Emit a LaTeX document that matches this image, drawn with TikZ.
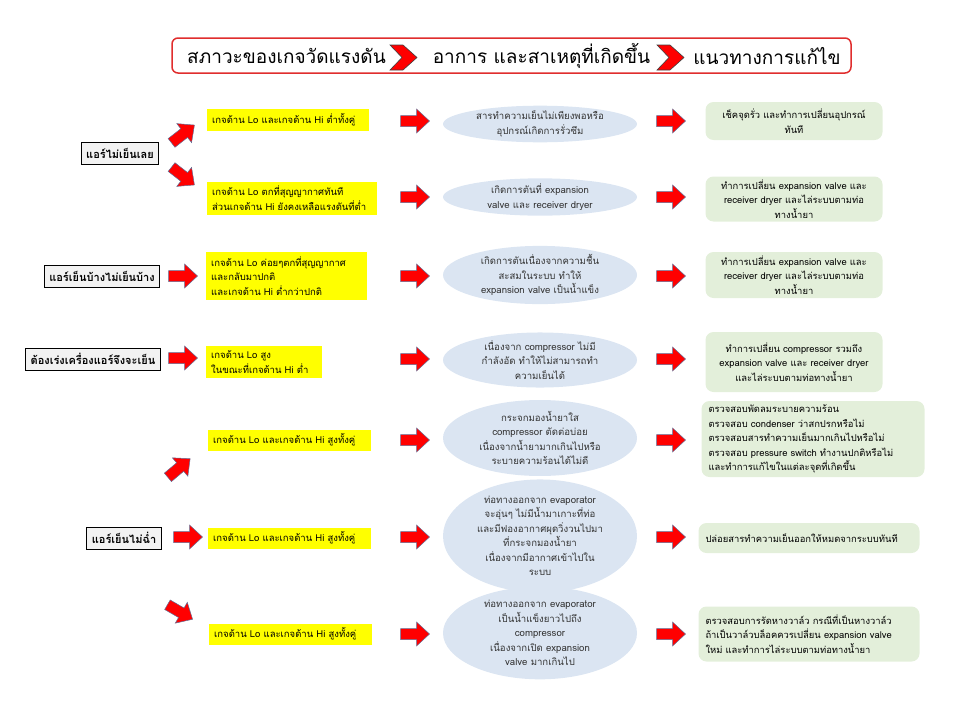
\documentclass[tikz,border=0pt]{standalone}
\usepackage{fontspec}
\setmainfont{Loma}[Script=Thai]
\usetikzlibrary{shapes.geometric}
\definecolor{alarmred}{RGB}{224,45,45}
\definecolor{gaugeyellow}{RGB}{255,255,0}
\definecolor{causeblue}{RGB}{219,229,242}
\definecolor{fixgreen}{RGB}{227,239,218}
\definecolor{arrowedge}{RGB}{95,110,150}
\definecolor{labelgray}{RGB}{242,242,242}

\tikzset{
  headtext/.style={font=\fontsize{19}{22}\selectfont, inner sep=0pt},
  symptom/.style={draw=black, fill=labelgray, line width=0.8pt, font=\bfseries\fontsize{11}{13}\selectfont, inner xsep=5pt, minimum height=22pt},
  gauge/.style={fill=gaugeyellow, anchor=west, align=left, font=\fontsize{9.5}{14.5}\selectfont, inner xsep=5pt, inner ysep=0pt},
  causeell/.style={ellipse, fill=causeblue, minimum width=194pt, inner sep=0pt, align=center, text=black!80, font=\fontsize{9.6}{14.5}\selectfont},
  fixbox/.style={fill=fixgreen, rounded corners=8pt, align=center, inner sep=0pt, font=\fontsize{9.4}{14.5}\selectfont},
  fixleft/.style={fixbox, align=left, inner xsep=7pt},
  redarrow/.pic={\draw[fill=red, draw=arrowedge, line width=0.5pt] (-14.5,-5.5) -- (1.5,-5.5) -- (1.5,-12) -- (14.5,0) -- (1.5,12) -- (1.5,5.5) -- (-14.5,5.5) -- cycle;}
}

\begin{document}
\begin{tikzpicture}[x=1pt,y=-1pt]
    \useasboundingbox (0,0) rectangle (960,720);

    % Header bar with the three column titles
    \node[draw=alarmred, line width=1.5pt, rounded corners=6pt, minimum width=679pt, minimum height=35pt] (header) at (511.5,55.5) {};
    \node[headtext] (hgauge) at (286.5,56) {สภาวะของเกจวัดแรงดัน};
    \node[headtext] (hcause) at (541.5,56) {อาการ และสาเหตุที่เกิดขึ้น};
    \node[headtext] (hfix) at (767,56) {แนวทางการแก้ไข};
    \fill[red, draw=gray!50!black, line width=0.6pt] (390,45) -- (403,45) -- (417,57.5) -- (403,70) -- (390,70) -- (402,57.5) -- cycle;
    \fill[red, draw=gray!50!black, line width=0.6pt] (657,45) -- (670,45) -- (684,57.5) -- (670,70) -- (657,70) -- (669,57.5) -- cycle;

    % Symptoms (left column)
    \node[symptom] (nocool) at (120,153) {แอร์ไม่เย็นเลย};
    \node[symptom] (sometimes) at (102,276) {แอร์เย็นบ้างไม่เย็นบ้าง};
    \node[symptom] (revup) at (93,359) {ต้องเร่งเครื่องแอร์จึงจะเย็น};
    \node[symptom] (weak) at (124,538) {แอร์เย็นไม่ฉ่ำ};

    % Arrows from symptoms to gauge readings
    \pic[rotate=38] (a1) at (183,134) {redarrow};
    \pic[rotate=-38] (a2) at (183,176) {redarrow};
    \pic (a3) at (183,276) {redarrow};
    \pic (a4) at (183,358) {redarrow};
    \pic[rotate=40] (a5) at (179,468) {redarrow};
    \pic (a6) at (188,537) {redarrow};
    \pic[rotate=-30] (a7) at (180,612) {redarrow};

    % Gauge readings (yellow)
    \node[gauge, minimum height=22pt, text width=152pt] (g1) at (207,120) {เกจด้าน Lo และเกจด้าน Hi ต่ำทั้งคู่};
    \node[gauge, minimum height=33pt, text width=160pt] (g2) at (207,198) {เกจด้าน Lo ตกที่สุญญากาศทันที\\ส่วนเกจด้าน Hi ยังคงเหลือแรงดันที่ต่ำ};
    \node[gauge, minimum height=48pt, text width=151pt] (g3) at (206,276) {เกจด้าน Lo ค่อยๆตกที่สุญญากาศ\\และกลับมาปกติ\\และเกจด้าน Hi ต่ำกว่าปกติ};
    \node[gauge, minimum height=32pt, text width=106pt] (g4) at (206,362) {เกจด้าน Lo สูง\\ในขณะที่เกจด้าน Hi ต่ำ};
    \node[gauge, minimum height=21pt, text width=153pt] (g5) at (208,440) {เกจด้าน Lo และเกจด้าน Hi สูงทั้งคู่};
    \node[gauge, minimum height=21pt, text width=153pt] (g6) at (208,538) {เกจด้าน Lo และเกจด้าน Hi สูงทั้งคู่};
    \node[gauge, minimum height=21pt, text width=153pt] (g7) at (209,634) {เกจด้าน Lo และเกจด้าน Hi สูงทั้งคู่};

    % Arrows to causes
    \pic (m1) at (415,121) {redarrow};
    \pic (m2) at (415,197) {redarrow};
    \pic (m3) at (415,276) {redarrow};
    \pic (m4) at (415,359) {redarrow};
    \pic (m5) at (415,440) {redarrow};
    \pic (m6) at (415,537) {redarrow};
    \pic (m7) at (415,634) {redarrow};

    % Symptoms and causes (blue ellipses)
    \node[causeell, minimum height=34pt] (c1) at (540,124) {สารทำความเย็นไม่เพียงพอหรือ\\อุปกรณ์เกิดการรั่วซึม};
    \node[causeell, minimum height=32pt] (c2) at (540,197) {เกิดการตันที่ expansion\\valve และ receiver dryer};
    \node[causeell, minimum height=54pt] (c3) at (540,275) {เกิดการตันเนื่องจากความชื้น\\สะสมในระบบ ทำให้\\expansion valve เป็นน้ำแข็ง};
    \node[causeell, minimum height=55pt] (c4) at (540,360) {เนื่องจาก compressor ไม่มี\\กำลังอัด ทำให้ไม่สามารถทำ\\ความเย็นได้};
    \node[causeell, minimum height=70pt] (c5) at (540,438) {กระจกมองน้ำยาใส\\compressor ตัดต่อบ่อย\\เนื่องจากน้ำยามากเกินไปหรือ\\ระบายความร้อนได้ไม่ดี};
    \node[causeell, minimum height=97pt] (c6) at (540,536) {ท่อทางออกจาก evaporator\\จะอุ่นๆ ไม่มีน้ำมาเกาะที่ท่อ\\และมีฟองอากาศผุดวิ่งวนไปมา\\ที่กระจกมองน้ำยา\\เนื่องจากมีอากาศเข้าไปใน\\ระบบ};
    \node[causeell, minimum height=78pt] (c7) at (540,633) {ท่อทางออกจาก evaporator\\เป็นน้ำแข็งยาวไปถึง\\compressor\\เนื่องจากเปิด expansion\\valve มากเกินไป};

    % Arrows to fixes
    \pic (r1) at (671,121) {redarrow};
    \pic (r2) at (671,197) {redarrow};
    \pic (r3) at (671,276) {redarrow};
    \pic (r4) at (671,359) {redarrow};
    \pic (r5) at (671,440) {redarrow};
    \pic (r6) at (671,537) {redarrow};
    \pic (r7) at (671,634) {redarrow};

    % Fixes (green)
    \node[fixbox, minimum width=177pt, minimum height=38pt] (f1) at (794,121) {เช็คจุดรั่ว และทำการเปลี่ยนอุปกรณ์\\ทันที};
    \node[fixbox, minimum width=177pt, minimum height=45pt] (f2) at (794,199) {ทำการเปลี่ยน expansion valve และ\\receiver dryer และไล่ระบบตามท่อ\\ทางน้ำยา};
    \node[fixbox, minimum width=177pt, minimum height=46pt] (f3) at (794,275) {ทำการเปลี่ยน expansion valve และ\\receiver dryer และไล่ระบบตามท่อ\\ทางน้ำยา};
    \node[fixbox, minimum width=177pt, minimum height=60pt] (f4) at (794,362) {ทำการเปลี่ยน compressor รวมถึง\\expansion valve และ receiver dryer\\และไล่ระบบตามท่อทางน้ำยา};
    \node[fixleft, text width=209pt, minimum height=76pt] (f5) at (813,439) {ตรวจสอบพัดลมระบายความร้อน\\ตรวจสอบ condenser ว่าสกปรกหรือไม่\\ตรวจสอบสารทำความเย็นมากเกินไปหรือไม่\\ตรวจสอบ pressure switch ทำงานปกติหรือไม่\\และทำการแก้ไขในแต่ละจุดที่เกิดขึ้น};
    \node[fixleft, text width=207pt, minimum height=30pt] (f6) at (809,538) {ปล่อยสารทำความเย็นออกให้หมดจากระบบทันที};
    \node[fixleft, text width=207pt, minimum height=55pt] (f7) at (809,634) {ตรวจสอบการรัดหางวาล์ว กรณีที่เป็นหางวาล์ว\\ถ้าเป็นวาล์วบล็อคควรเปลี่ยน expansion valve\\ใหม่ และทำการไล่ระบบตามท่อทางน้ำยา};
\end{tikzpicture}
\end{document}
